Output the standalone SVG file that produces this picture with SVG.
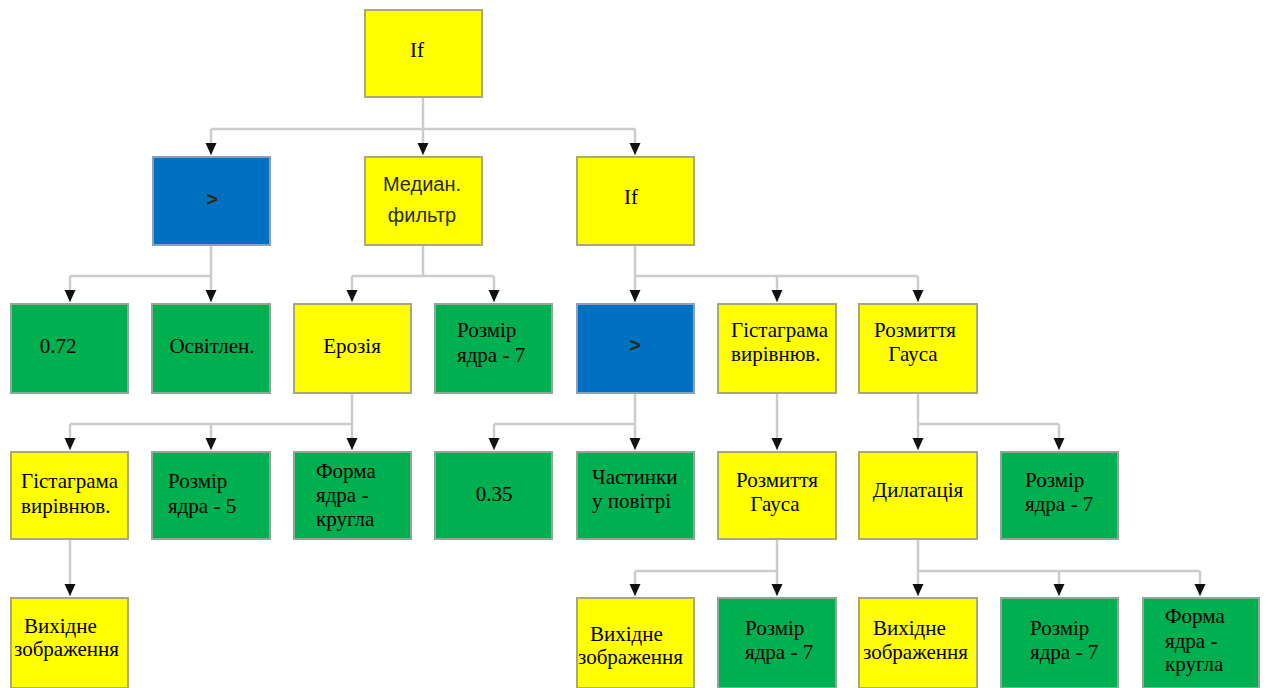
<svg xmlns="http://www.w3.org/2000/svg" width="1266" height="688" viewBox="0 0 1266 688">
<style>
.y{fill:#ffff00;stroke:#a8a878;stroke-width:2}
.g{fill:#00b050;stroke:#8fa895;stroke-width:2}
.b{fill:#0070c0;stroke:#8aa0b8;stroke-width:2}
.t{font-family:"Liberation Serif","Times New Roman",serif;font-size:21px;fill:#000}
.s{font-family:"Liberation Sans",Arial,sans-serif;font-size:20px;fill:#2a2a10}
.c{fill:none;stroke:#cccccc;stroke-width:2.5}
</style>
<defs>
<marker id="ah" markerUnits="userSpaceOnUse" markerWidth="13" markerHeight="12" refX="12" refY="5.5" orient="auto">
<path d="M0,0 L12,5.5 L0,11 z" fill="#111"/>
</marker>
</defs>
<rect width="1266" height="688" fill="#ffffff"/>
<g id="connectors">
<path class="c" d="M423,97 V129"/>
<path class="c" d="M211,129 H635"/>
<path class="c" d="M211,129 V155" marker-end="url(#ah)"/>
<path class="c" d="M423,129 V155" marker-end="url(#ah)"/>
<path class="c" d="M635,129 V155" marker-end="url(#ah)"/>
<path class="c" d="M211,245 V276 M70,276 H211"/>
<path class="c" d="M70,276 V302" marker-end="url(#ah)"/>
<path class="c" d="M211,276 V302" marker-end="url(#ah)"/>
<path class="c" d="M423,245 V276 M352,276 H494"/>
<path class="c" d="M352,276 V302" marker-end="url(#ah)"/>
<path class="c" d="M494,276 V302" marker-end="url(#ah)"/>
<path class="c" d="M635,245 V276 M635,276 H918"/>
<path class="c" d="M635,276 V302" marker-end="url(#ah)"/>
<path class="c" d="M777,276 V302" marker-end="url(#ah)"/>
<path class="c" d="M918,276 V302" marker-end="url(#ah)"/>
<path class="c" d="M352,393 V424 M70,424 H352"/>
<path class="c" d="M70,424 V450" marker-end="url(#ah)"/>
<path class="c" d="M211,424 V450" marker-end="url(#ah)"/>
<path class="c" d="M352,424 V450" marker-end="url(#ah)"/>
<path class="c" d="M635,393 V424 M494,424 H635"/>
<path class="c" d="M494,424 V450" marker-end="url(#ah)"/>
<path class="c" d="M635,424 V450" marker-end="url(#ah)"/>
<path class="c" d="M777,393 V450" marker-end="url(#ah)"/>
<path class="c" d="M918,393 V424 M918,424 H1059"/>
<path class="c" d="M918,424 V450" marker-end="url(#ah)"/>
<path class="c" d="M1059,424 V450" marker-end="url(#ah)"/>
<path class="c" d="M70,539 V596" marker-end="url(#ah)"/>
<path class="c" d="M777,539 V571 M635,571 H777"/>
<path class="c" d="M635,571 V596" marker-end="url(#ah)"/>
<path class="c" d="M777,571 V596" marker-end="url(#ah)"/>
<path class="c" d="M918,539 V571 M918,571 H1200"/>
<path class="c" d="M918,571 V596" marker-end="url(#ah)"/>
<path class="c" d="M1059,571 V596" marker-end="url(#ah)"/>
<path class="c" d="M1200,571 V596" marker-end="url(#ah)"/>
</g>
<g id="n-root"><rect class="y" x="365" y="10" width="117" height="87"/><text class="t" x="417" y="57" text-anchor="middle" font-size="22">If</text></g>
<g id="n-gt1"><rect class="b" x="153" y="157" width="117" height="88"/><text class="s" x="212" y="206" text-anchor="middle" font-size="16" font-weight="bold" fill="#1a2a3a">&gt;</text></g>
<g id="n-median"><rect class="y" x="365" y="157" width="117" height="88"/><text class="s" x="422" y="191" text-anchor="middle" font-size="19">Медиан.</text><text class="s" x="422" y="222" text-anchor="middle" font-size="19">фильтр</text></g>
<g id="n-if2"><rect class="y" x="577" y="157" width="117" height="88"/><text class="t" x="631" y="204" text-anchor="middle" font-size="22">If</text></g>
<g id="n-072"><rect class="g" x="11" y="304" width="117" height="89"/><text class="t" x="58" y="353" text-anchor="middle">0.72</text></g>
<g id="n-osvitlen"><rect class="g" x="152" y="304" width="118" height="89"/><text class="t" x="212" y="353" text-anchor="middle">Освітлен.</text></g>
<g id="n-erozia"><rect class="y" x="294" y="304" width="117" height="89"/><text class="t" x="352" y="353" text-anchor="middle">Ерозія</text></g>
<g id="n-rozmir7a"><rect class="g" x="435" y="304" width="117" height="89"/><text class="t" x="457" y="337">Розмір</text><text class="t" x="457" y="362">ядра - 7</text></g>
<g id="n-gt2"><rect class="b" x="577" y="304" width="117" height="89"/><text class="s" x="635" y="352" text-anchor="middle" font-size="16" font-weight="bold" fill="#1a2a3a">&gt;</text></g>
<g id="n-hist1"><rect class="y" x="718" y="304" width="118" height="89"/><text class="t" x="731" y="337">Гістаграма</text><text class="t" x="731" y="361">вирівнюв.</text></g>
<g id="n-gauss1"><rect class="y" x="859" y="304" width="118" height="89"/><text class="t" x="915" y="337" text-anchor="middle">Розмиття</text><text class="t" x="913" y="361" text-anchor="middle">Гауса</text></g>
<g id="n-hist2"><rect class="y" x="11" y="452" width="117" height="87"/><text class="t" x="21" y="488">Гістаграма</text><text class="t" x="21" y="513">вирівнюв.</text></g>
<g id="n-rozmir5"><rect class="g" x="152" y="452" width="118" height="87"/><text class="t" x="168" y="488">Розмір</text><text class="t" x="168" y="513">ядра - 5</text></g>
<g id="n-forma1"><rect class="g" x="294" y="452" width="117" height="87"/><text class="t" x="316" y="478">Форма</text><text class="t" x="316" y="502">ядра -</text><text class="t" x="316" y="526">кругла</text></g>
<g id="n-035"><rect class="g" x="435" y="452" width="117" height="87"/><text class="t" x="494" y="501" text-anchor="middle">0.35</text></g>
<g id="n-chastynky"><rect class="g" x="577" y="452" width="117" height="87"/><text class="t" x="592" y="484">Частинки</text><text class="t" x="592" y="508">у повітрі</text></g>
<g id="n-gauss2"><rect class="y" x="718" y="452" width="118" height="87"/><text class="t" x="777" y="487" text-anchor="middle">Розмиття</text><text class="t" x="775" y="511" text-anchor="middle">Гауса</text></g>
<g id="n-dylatacia"><rect class="y" x="859" y="452" width="118" height="87"/><text class="t" x="918" y="497" text-anchor="middle">Дилатація</text></g>
<g id="n-rozmir7b"><rect class="g" x="1001" y="452" width="117" height="87"/><text class="t" x="1025" y="487">Розмір</text><text class="t" x="1025" y="511">ядра - 7</text></g>
<g id="n-vyh1"><rect class="y" x="11" y="598" width="117" height="90"/><text class="t" x="24" y="633">Вихідне</text><text class="t" x="14" y="656">зображення</text></g>
<g id="n-vyh2"><rect class="y" x="577" y="598" width="117" height="90"/><text class="t" x="590" y="641">Вихідне</text><text class="t" x="578" y="664">зображення</text></g>
<g id="n-rozmir7c"><rect class="g" x="718" y="598" width="118" height="90"/><text class="t" x="745" y="635">Розмір</text><text class="t" x="745" y="659">ядра - 7</text></g>
<g id="n-vyh3"><rect class="y" x="859" y="598" width="118" height="90"/><text class="t" x="873" y="635">Вихідне</text><text class="t" x="863" y="659">зображення</text></g>
<g id="n-rozmir7d"><rect class="g" x="1001" y="598" width="117" height="90"/><text class="t" x="1030" y="635">Розмір</text><text class="t" x="1030" y="659">ядра - 7</text></g>
<g id="n-forma2"><rect class="g" x="1143" y="598" width="116" height="90"/><text class="t" x="1165" y="623">Форма</text><text class="t" x="1165" y="648">ядра -</text><text class="t" x="1165" y="671">кругла</text></g>
</svg>
